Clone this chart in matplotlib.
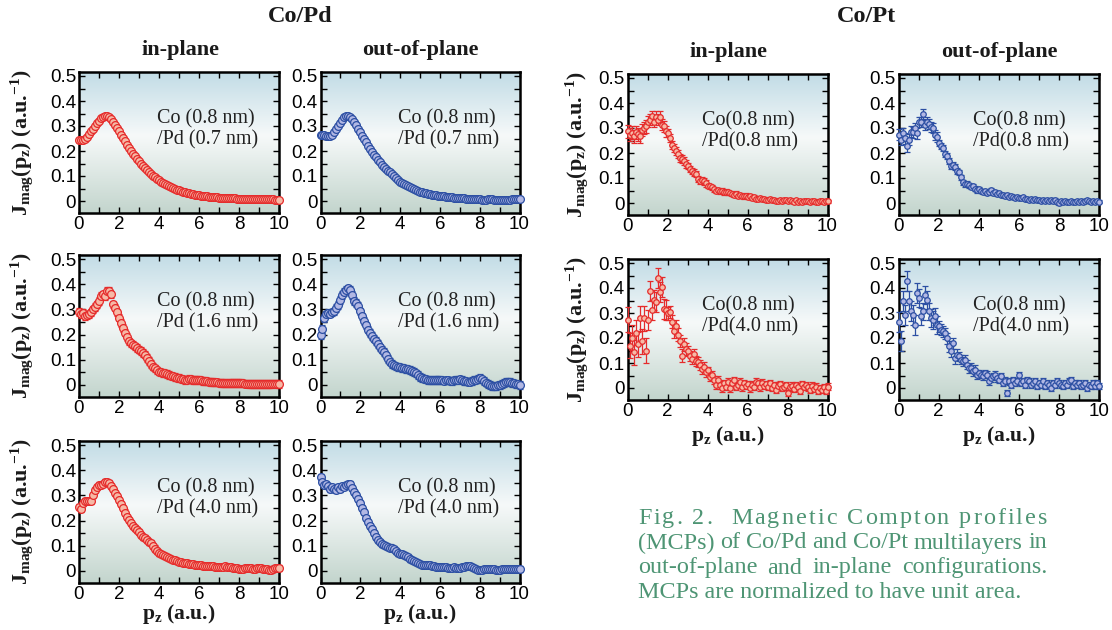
import matplotlib
matplotlib.use('Agg')
import matplotlib.pyplot as plt
from matplotlib.colors import LinearSegmentedColormap
import numpy as np

# ── Colours ──
RED_EDGE, RED_FACE = '#e52b2b', '#f6b9a6'
BLUE_EDGE, BLUE_FACE = '#2c4fa3', '#b2b8e4'
CAPTION = '#4e9574'
BG = LinearSegmentedColormap.from_list(
    'bg', [(0.0, '#c3d5cd'), (0.55, '#f6f9f9'), (1.0, '#c2dce6')])

plt.rcParams.update({
    'font.family': ['Liberation Serif', 'DejaVu Serif'],
    'mathtext.fontset': 'custom',
    'mathtext.rm': 'Liberation Serif',
    'mathtext.bf': 'Liberation Serif:bold',
    'mathtext.it': 'Liberation Serif:italic',
    'mathtext.default': 'bf',
})

# ── Data: momentum grid (a.u.) ──
pz = np.round(np.arange(0, 10.01, 0.1), 1)

# Co/Pd (0.7 nm) in-plane
pd07_in = [
    0.245, 0.243, 0.245, 0.250, 0.258, 0.268, 0.279, 0.290, 0.301, 0.312,
    0.322, 0.331, 0.338, 0.342, 0.342, 0.338, 0.330, 0.318, 0.304, 0.292,
    0.279, 0.266, 0.252, 0.239, 0.226, 0.214, 0.202, 0.190, 0.179, 0.169,
    0.159, 0.149, 0.140, 0.131, 0.123, 0.115, 0.108, 0.101, 0.095, 0.089,
    0.083, 0.078, 0.073, 0.068, 0.064, 0.060, 0.056, 0.052, 0.049, 0.046,
    0.043, 0.040, 0.038, 0.035, 0.033, 0.031, 0.029, 0.028, 0.026, 0.025,
    0.023, 0.022, 0.021, 0.020, 0.019, 0.018, 0.017, 0.016, 0.016, 0.015,
    0.014, 0.014, 0.013, 0.013, 0.012, 0.012, 0.011, 0.011, 0.011, 0.010,
    0.010, 0.010, 0.009, 0.009, 0.009, 0.009, 0.008, 0.008, 0.008, 0.008,
    0.008, 0.008, 0.007, 0.007, 0.007, 0.007, 0.007, 0.007, 0.006, 0.006, 0.005]
# Co/Pd (0.7 nm) out-of-plane
pd07_out = [
    0.266, 0.266, 0.264, 0.262, 0.260, 0.261, 0.266, 0.276, 0.288, 0.301,
    0.314, 0.326, 0.335, 0.340, 0.341, 0.338, 0.330, 0.317, 0.303, 0.290,
    0.276, 0.262, 0.248, 0.235, 0.222, 0.209, 0.197, 0.186, 0.175, 0.165,
    0.156, 0.146, 0.137, 0.129, 0.122, 0.116, 0.109, 0.101, 0.091, 0.083,
    0.077, 0.072, 0.068, 0.064, 0.060, 0.056, 0.052, 0.048, 0.044, 0.040,
    0.037, 0.035, 0.033, 0.031, 0.029, 0.027, 0.025, 0.024, 0.023, 0.022,
    0.021, 0.020, 0.019, 0.018, 0.017, 0.016, 0.015, 0.014, 0.013, 0.013,
    0.012, 0.012, 0.011, 0.010, 0.010, 0.009, 0.009, 0.008, 0.008, 0.008,
    0.007, 0.006, 0.006, 0.006, 0.007, 0.007, 0.007, 0.006, 0.005, 0.005,
    0.005, 0.006, 0.006, 0.006, 0.006, 0.006, 0.007, 0.007, 0.007, 0.007, 0.007]
# Co/Pd (1.6 nm) in-plane
pd16_in = [
    0.290, 0.280, 0.287, 0.273, 0.278, 0.280, 0.288, 0.300, 0.310, 0.320,
    0.333, 0.355, 0.360, 0.352, 0.372, 0.373, 0.360, 0.320, 0.307, 0.288,
    0.267, 0.247, 0.227, 0.208, 0.190, 0.173, 0.165, 0.160, 0.153, 0.147,
    0.140, 0.134, 0.127, 0.120, 0.108, 0.095, 0.084, 0.073, 0.066, 0.058,
    0.053, 0.050, 0.048, 0.046, 0.043, 0.040, 0.037, 0.034, 0.031, 0.029,
    0.027, 0.025, 0.022, 0.020, 0.021, 0.023, 0.022, 0.020, 0.019, 0.021,
    0.020, 0.018, 0.016, 0.015, 0.014, 0.013, 0.012, 0.011, 0.010, 0.010,
    0.009, 0.008, 0.007, 0.007, 0.006, 0.007, 0.008, 0.008, 0.008, 0.007,
    0.007, 0.007, 0.006, 0.005, 0.005, 0.004, 0.004, 0.004, 0.003, 0.004,
    0.004, 0.004, 0.003, 0.003, 0.003, 0.004, 0.004, 0.005, 0.005, 0.004, 0.004]
# Co/Pd (1.6 nm) out-of-plane
pd16_out = [
    0.197, 0.222, 0.266, 0.280, 0.286, 0.283, 0.288, 0.292, 0.305, 0.318,
    0.338, 0.357, 0.368, 0.376, 0.383, 0.378, 0.357, 0.333, 0.325, 0.315,
    0.292, 0.272, 0.253, 0.236, 0.220, 0.207, 0.195, 0.184, 0.175, 0.162,
    0.149, 0.140, 0.130, 0.117, 0.104, 0.093, 0.084, 0.078, 0.074, 0.072,
    0.070, 0.068, 0.066, 0.064, 0.062, 0.060, 0.056, 0.052, 0.046, 0.039,
    0.032, 0.028, 0.025, 0.022, 0.020, 0.019, 0.018, 0.019, 0.019, 0.019,
    0.019, 0.018, 0.017, 0.018, 0.018, 0.017, 0.016, 0.018, 0.020, 0.021,
    0.022, 0.019, 0.016, 0.014, 0.013, 0.013, 0.016, 0.019, 0.021, 0.024,
    0.027, 0.022, 0.015, 0.009, 0.004, 0.000, -0.004, -0.006, -0.005, -0.002,
    0.000, 0.004, 0.008, 0.011, 0.013, 0.011, 0.008, 0.006, 0.004, 0.002, 0.000]
# Co/Pd (4.0 nm) in-plane
pd40_in = [
    0.255, 0.247, 0.268, 0.277, 0.276, 0.279, 0.276, 0.303, 0.320, 0.334,
    0.340, 0.342, 0.346, 0.352, 0.355, 0.349, 0.337, 0.324, 0.310, 0.296,
    0.283, 0.266, 0.249, 0.232, 0.216, 0.202, 0.189, 0.178, 0.169, 0.161,
    0.153, 0.144, 0.136, 0.129, 0.123, 0.116, 0.109, 0.099, 0.089, 0.079,
    0.070, 0.066, 0.063, 0.059, 0.055, 0.052, 0.048, 0.045, 0.042, 0.039,
    0.036, 0.034, 0.033, 0.031, 0.030, 0.029, 0.028, 0.026, 0.025, 0.024,
    0.023, 0.022, 0.021, 0.021, 0.020, 0.019, 0.018, 0.018, 0.017, 0.017,
    0.016, 0.016, 0.017, 0.018, 0.017, 0.016, 0.015, 0.013, 0.012, 0.011,
    0.009, 0.009, 0.009, 0.010, 0.011, 0.011, 0.010, 0.009, 0.009, 0.010,
    0.010, 0.011, 0.009, 0.008, 0.006, 0.004, 0.005, 0.008, 0.010, 0.010, 0.010]
# Co/Pd (4.0 nm) out-of-plane
pd40_out = [
    0.372, 0.353, 0.340, 0.345, 0.337, 0.327, 0.333, 0.327, 0.320, 0.333,
    0.327, 0.338, 0.333, 0.340, 0.347, 0.345, 0.330, 0.314, 0.300, 0.286,
    0.268, 0.250, 0.233, 0.212, 0.193, 0.180, 0.167, 0.150, 0.133, 0.122,
    0.113, 0.107, 0.103, 0.099, 0.096, 0.093, 0.090, 0.086, 0.081, 0.073,
    0.067, 0.068, 0.064, 0.060, 0.055, 0.049, 0.045, 0.040, 0.035, 0.031,
    0.027, 0.025, 0.024, 0.023, 0.023, 0.023, 0.021, 0.019, 0.017, 0.016,
    0.016, 0.015, 0.014, 0.014, 0.013, 0.013, 0.013, 0.014, 0.013, 0.012,
    0.013, 0.014, 0.016, 0.018, 0.020, 0.019, 0.015, 0.010, 0.006, 0.004,
    0.004, 0.005, 0.006, 0.007, 0.007, 0.007, 0.006, 0.006, 0.005, 0.005,
    0.005, 0.006, 0.007, 0.007, 0.008, 0.007, 0.006, 0.006, 0.006, 0.007, 0.007]
# Co/Pt (0.8 nm) in-plane
pt08_in = [
    0.287, 0.274, 0.282, 0.267, 0.283, 0.275, 0.267, 0.293, 0.300, 0.307,
    0.326, 0.333, 0.347, 0.326, 0.345, 0.333, 0.346, 0.313, 0.307, 0.287,
    0.280, 0.260, 0.234, 0.221, 0.208, 0.195, 0.182, 0.175, 0.168, 0.155,
    0.149, 0.136, 0.129, 0.122, 0.116, 0.096, 0.089, 0.092, 0.087, 0.079,
    0.070, 0.067, 0.063, 0.056, 0.050, 0.052, 0.047, 0.049, 0.043, 0.046,
    0.043, 0.040, 0.037, 0.034, 0.038, 0.030, 0.033, 0.028, 0.027, 0.030,
    0.024, 0.027, 0.020, 0.023, 0.018, 0.017, 0.021, 0.015, 0.018, 0.013,
    0.013, 0.016, 0.011, 0.014, 0.010, 0.010, 0.013, 0.008, 0.011, 0.012,
    0.010, 0.014, 0.009, 0.006, 0.011, 0.004, 0.008, 0.005, 0.010, 0.007,
    0.008, 0.004, 0.007, 0.009, 0.005, 0.006, 0.009, 0.007, 0.005, 0.008, 0.007]
# Co/Pt (0.8 nm) out-of-plane
pt08_out = [
    0.273, 0.253, 0.279, 0.260, 0.227, 0.253, 0.286, 0.283, 0.299, 0.279,
    0.325, 0.323, 0.357, 0.312, 0.325, 0.318, 0.305, 0.299, 0.273, 0.266,
    0.240, 0.227, 0.221, 0.195, 0.188, 0.169, 0.149, 0.152, 0.143, 0.130,
    0.123, 0.104, 0.084, 0.075, 0.078, 0.071, 0.065, 0.068, 0.058, 0.052,
    0.058, 0.050, 0.045, 0.048, 0.039, 0.044, 0.052, 0.040, 0.045, 0.038,
    0.039, 0.034, 0.032, 0.029, 0.033, 0.026, 0.028, 0.025, 0.022, 0.024,
    0.022, 0.019, 0.023, 0.017, 0.015, 0.013, 0.017, 0.012, 0.015, 0.011,
    0.013, 0.010, 0.014, 0.009, 0.012, 0.010, 0.013, 0.008, 0.013, 0.006,
    0.000, 0.008, 0.005, 0.010, 0.004, 0.003, 0.008, 0.006, 0.004, 0.007,
    0.006, 0.010, 0.004, 0.008, 0.011, 0.010, 0.005, 0.009, 0.006, 0.008, 0.006]
# Co/Pt (4.0 nm) in-plane
pt40_in = [
    0.273, 0.169, 0.201, 0.143, 0.221, 0.175, 0.279, 0.188, 0.279, 0.149,
    0.273, 0.390, 0.312, 0.351, 0.344, 0.442, 0.383, 0.403, 0.318, 0.312,
    0.299, 0.305, 0.266, 0.227, 0.247, 0.214, 0.188, 0.130, 0.175, 0.156,
    0.149, 0.130, 0.117, 0.136, 0.110, 0.104, 0.091, 0.078, 0.084, 0.065,
    0.071, 0.045, 0.052, 0.032, 0.013, 0.032, 0.013, 0.000, 0.019, 0.006,
    0.026, 0.000, 0.019, 0.032, 0.006, 0.013, 0.026, 0.003, 0.019, 0.010,
    0.016, 0.000, 0.013, 0.006, 0.026, 0.019, 0.003, 0.022, 0.010, 0.016,
    0.006, 0.019, 0.000, 0.013, -0.006, 0.010, 0.016, 0.000, 0.006, 0.013,
    -0.019, 0.003, 0.010, -0.003, 0.013, 0.006, -0.010, 0.016, 0.006, 0.013,
    0.003, -0.006, 0.010, -0.003, 0.006, -0.010, 0.000, -0.006, 0.003, -0.010, 0.006]
# Co/Pt (4.0 nm) out-of-plane
pt40_out = [
    0.263, 0.190, 0.347, 0.293, 0.430, 0.347, 0.307, 0.293, 0.253, 0.380,
    0.360, 0.287, 0.307, 0.373, 0.353, 0.307, 0.280, 0.273, 0.287, 0.253,
    0.247, 0.233, 0.227, 0.220, 0.200, 0.167, 0.147, 0.180, 0.120, 0.133,
    0.127, 0.113, 0.107, 0.113, 0.093, 0.080, 0.082, 0.067, 0.073, 0.053,
    0.060, 0.053, 0.047, 0.060, 0.053, 0.027, 0.040, 0.047, 0.053, 0.040,
    0.033, 0.047, 0.020, 0.030, -0.020, 0.027, 0.013, 0.033, 0.020, 0.027,
    0.053, 0.020, 0.027, 0.013, 0.033, 0.027, 0.013, 0.020, 0.027, 0.007,
    0.020, 0.013, 0.027, 0.007, 0.020, 0.013, 0.000, 0.020, 0.013, 0.027,
    0.020, 0.013, 0.007, 0.020, 0.013, 0.027, 0.033, 0.007, 0.020, 0.013,
    0.020, 0.007, 0.013, 0.020, 0.000, 0.013, 0.007, 0.020, 0.007, 0.020, 0.007]

# error bars: Co/Pd one value per panel, Co/Pt one value per 1 a.u. block
err_pd07, err_pd16, err_pd40 = 0.003, 0.015, 0.012
err_pt08_in = ([0.025] * 10 + [0.022] * 10 + [0.016] * 10 + [0.013] * 10 + [0.010] * 10
               + [0.009] * 10 + [0.008] * 10 + [0.008] * 10 + [0.007] * 10 + [0.007] * 11)
err_pt08_out = ([0.022] * 10 + [0.020] * 10 + [0.012] * 10 + [0.010] * 10 + [0.008] * 10
                + [0.007] * 10 + [0.006] * 10 + [0.006] * 10 + [0.006] * 10 + [0.006] * 11)
err_pt40_in = ([0.050] * 10 + [0.040] * 10 + [0.025] * 10 + [0.020] * 10 + [0.015] * 10
               + [0.014] * 10 + [0.014] * 10 + [0.013] * 10 + [0.013] * 10 + [0.013] * 11)
err_pt40_out = ([0.040] * 10 + [0.035] * 10 + [0.022] * 10 + [0.018] * 10 + [0.014] * 10
                + [0.013] * 10 + [0.012] * 10 + [0.012] * 10 + [0.012] * 10 + [0.012] * 11)

yticks = [0, 0.1, 0.2, 0.3, 0.4, 0.5]
ytick_labels = ['0', '0.1', '0.2', '0.3', '0.4', '0.5']
xticks = [0, 2, 4, 6, 8, 10]
xtick_labels = ['0', '2', '4', '6', '8', '10']

# ── Figure ──
W, H = 1112, 630
fig = plt.figure(figsize=(W / 100, H / 100), dpi=100)
fig.patch.set_facecolor('white')


def panel(l, t, r, b, y, err, edge, face, label, ms, tight=False):
    ax = fig.add_axes([l / W, 1 - b / H, (r - l) / W, (b - t) / H])
    grad = np.linspace(0, 1, 256).reshape(-1, 1)
    ax.imshow(grad, extent=(0, 1, 0, 1), transform=ax.transAxes, origin='lower',
              aspect='auto', cmap=BG, zorder=0)
    ax.errorbar(pz, y, yerr=err, fmt='o', ms=ms, mfc=face, mec=edge, mew=0.9,
                ecolor=edge, elinewidth=0.9, capsize=2.2, capthick=0.9,
                zorder=3, clip_on=False)
    ax.set_xlim(0, 10)
    ax.set_ylim(-0.048, 0.516)
    ax.set_xticks(xticks)
    ax.set_xticklabels(xtick_labels)
    ax.set_xticks(np.arange(1, 10, 2), minor=True)
    ax.set_yticks(yticks)
    ax.set_yticklabels(ytick_labels)
    ax.set_yticks(np.arange(0.05, 0.5, 0.1), minor=True)
    ax.tick_params(which='both', direction='in', top=True, right=True,
                   width=1.0, length=4.5, labelsize=13.5, pad=2)
    for lab in ax.get_xticklabels() + ax.get_yticklabels():
        lab.set_fontfamily(['Liberation Sans', 'DejaVu Sans'])
    for s in ax.spines.values():
        s.set_linewidth(1.8)
    ax.text(0.37 if tight else 0.39, 0.595, label, transform=ax.transAxes,
            ha='left', va='center', fontsize=14.5, color='#222222',
            linespacing=1.15, zorder=4)
    return ax


PD_X = [(79, 279), (320.5, 519.5)]
PD_Y = [(72, 213), (255, 397), (441, 583)]
PT_X = [(627.5, 827.5), (898.5, 1099)]
PT_Y = [(74, 215), (259, 400)]

pd_rows = [
    (pd07_in, pd07_out, err_pd07, 'Co (0.8 nm)\n/Pd (0.7 nm)'),
    (pd16_in, pd16_out, err_pd16, 'Co (0.8 nm)\n/Pd (1.6 nm)'),
    (pd40_in, pd40_out, err_pd40, 'Co (0.8 nm)\n/Pd (4.0 nm)'),
]
for (t, b), (yin, yout, err, lab) in zip(PD_Y, pd_rows):
    (l, r) = PD_X[0]
    panel(l, t, r, b, yin, err, RED_EDGE, RED_FACE, lab, 5.6)
    (l, r) = PD_X[1]
    panel(l, t, r, b, yout, err, BLUE_EDGE, BLUE_FACE, lab, 5.6)

pt_rows = [
    (pt08_in, pt08_out, err_pt08_in, err_pt08_out, 'Co(0.8 nm)\n/Pd(0.8 nm)'),
    (pt40_in, pt40_out, err_pt40_in, err_pt40_out, 'Co(0.8 nm)\n/Pd(4.0 nm)'),
]
for (t, b), (yin, yout, ein, eout, lab) in zip(PT_Y, pt_rows):
    (l, r) = PT_X[0]
    panel(l, t, r, b, yin, ein, RED_EDGE, RED_FACE, lab, 4.0, tight=True)
    (l, r) = PT_X[1]
    panel(l, t, r, b, yout, eout, BLUE_EDGE, BLUE_FACE, lab, 4.0, tight=True)

# ── Headers and axis labels ──
hdr = dict(ha='center', va='center', fontweight='bold', color='#1a1a1a')
fig.text(300 / W, 1 - 17 / H, 'Co/Pd', fontsize=17.5, **hdr)
fig.text(866 / W, 1 - 17 / H, 'Co/Pt', fontsize=17.5, **hdr)
fig.text(180 / W, 1 - 50 / H, 'in-plane', fontsize=16, **hdr)
fig.text(420 / W, 1 - 50 / H, 'out-of-plane', fontsize=16, **hdr)
fig.text(728 / W, 1 - 52 / H, 'in-plane', fontsize=16, **hdr)
fig.text(999 / W, 1 - 52 / H, 'out-of-plane', fontsize=16, **hdr)

ylab = r'$J_{mag}(p_z)$ (a.u.$^{-1}$)'
for t, b in PD_Y:
    fig.text(22 / W, 1 - (t + b) / 2 / H, ylab, rotation=90, fontsize=15.8, **hdr)
for t, b in PT_Y:
    fig.text(577 / W, 1 - (t + b) / 2 / H, ylab, rotation=90, fontsize=15.8, **hdr)

xlab = r'$p_z$ (a.u.)'
for (l, r) in PD_X:
    fig.text((l + r) / 2 / W, 1 - 614 / H, xlab, fontsize=15.5, **hdr)
for (l, r) in PT_X:
    fig.text((l + r) / 2 / W, 1 - 436 / H, xlab, fontsize=15.5, **hdr)

# ── Caption (justified; first line letter-spaced) ──
caption = ['Fig. 2.  Magnetic Compton profiles',
           '(MCPs) of Co/Pd and Co/Pt multilayers in',
           'out-of-plane and in-plane configurations.',
           'MCPs are normalized to have unit area.']
cap_x0, cap_x1 = 638, 1047
cap_y = [518, 543, 568, 592]
cap_kw = dict(fontsize=17.4, color=CAPTION, ha='left', va='center')
renderer = fig.canvas.get_renderer()


def spread(pieces, yy, space_w):
    objs, widths = [], []
    for p in pieces:
        if p == ' ':
            objs.append(None)
            widths.append(space_w)
        else:
            o = fig.text(0, 1 - yy / H, p, **cap_kw)
            objs.append(o)
            widths.append(o.get_window_extent(renderer).width)
    gap = (cap_x1 - cap_x0 - sum(widths)) / (len(pieces) - 1)
    x = cap_x0
    for o, w in zip(objs, widths):
        if o is not None:
            o.set_x(x / W)
        x += w + gap


probe = fig.text(0, 0, 'a a', **cap_kw)
probe2 = fig.text(0, 0, 'aa', **cap_kw)
space_w = probe.get_window_extent(renderer).width - probe2.get_window_extent(renderer).width
probe.remove()
probe2.remove()

spread(list(caption[0]), cap_y[0], space_w)
for line, yy in zip(caption[1:3], cap_y[1:3]):
    spread(line.split(), yy, 0)
fig.text(cap_x0 / W, 1 - cap_y[3] / H, caption[3], **cap_kw)

fig.savefig('out.png', dpi=100, facecolor='white')
plt.close(fig)
